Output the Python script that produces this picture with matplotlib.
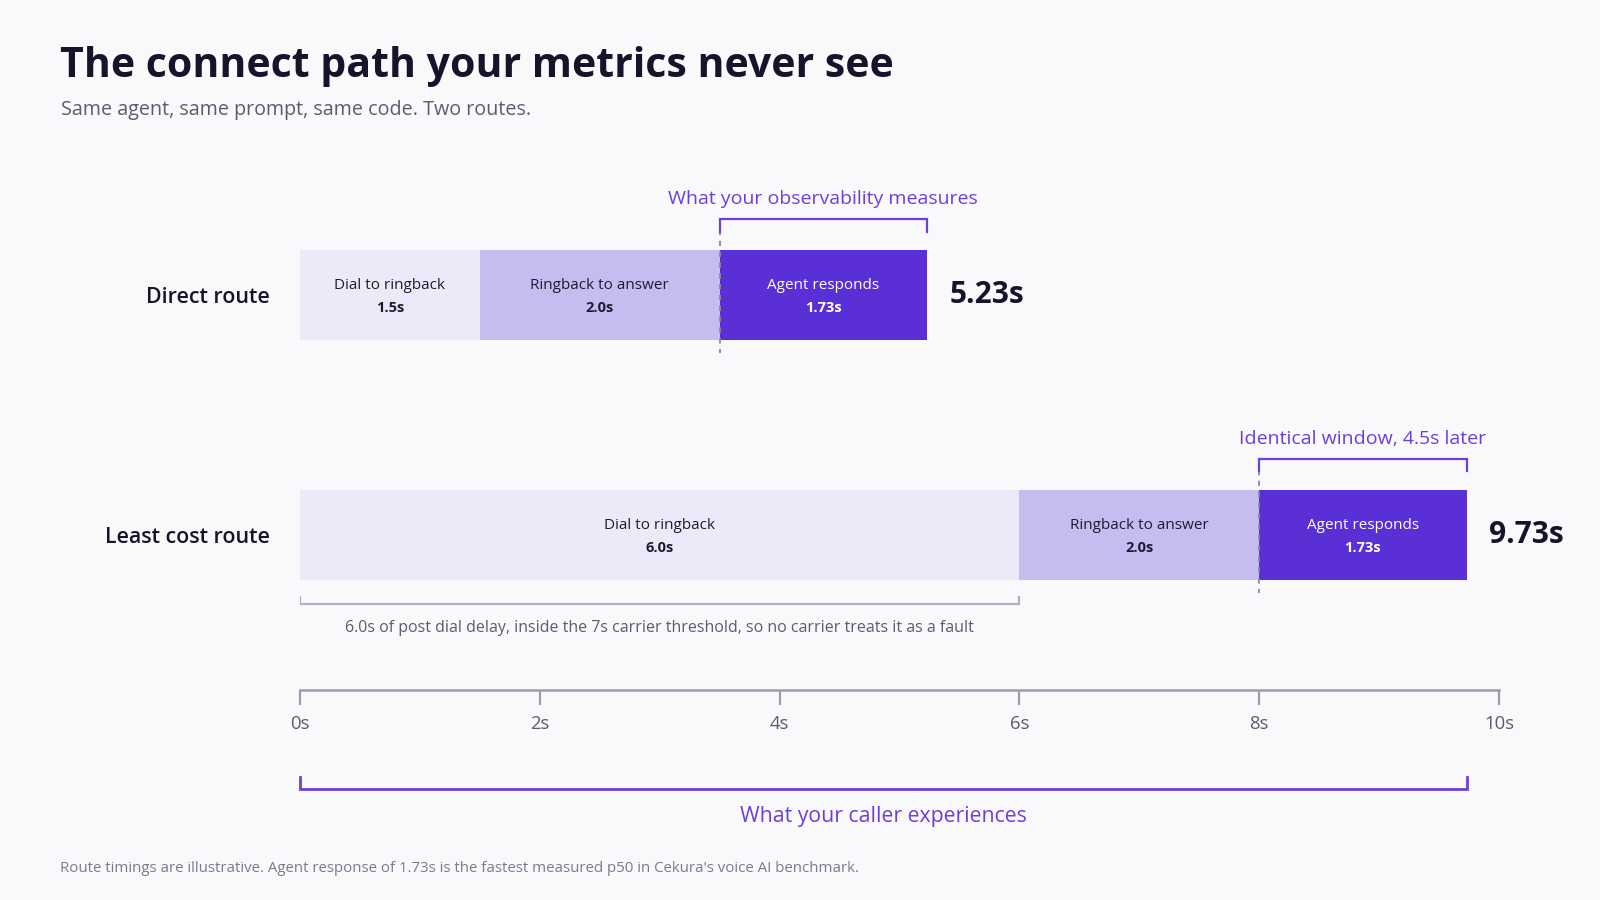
import matplotlib
matplotlib.use("Agg")
import matplotlib.pyplot as plt

# ---------------- data ----------------
routes = ["Direct route", "Least cost route"]
segment_names = ["Dial to ringback", "Ringback to answer", "Agent responds"]
direct_values = [1.5, 2.0, 1.73]
least_cost_values = [6.0, 2.0, 1.73]
totals = ["5.23s", "9.73s"]
tick_values = [0, 2, 4, 6, 8, 10]
tick_labels = ["0s", "2s", "4s", "6s", "8s", "10s"]

title = "The connect path your metrics never see"
subtitle = "Same agent, same prompt, same code. Two routes."
obs_label = "What your observability measures"
window_label = "Identical window, 4.5s later"
pdd_label = "6.0s of post dial delay, inside the 7s carrier threshold, so no carrier treats it as a fault"
caller_label = "What your caller experiences"
footnote = "Route timings are illustrative. Agent response of 1.73s is the fastest measured p50 in Cekura's voice AI benchmark."

# ---------------- style ----------------
BG = "#f9f9fc"
SEG_COLORS = ["#ece9f8", "#c5bdf0", "#5b2fd6"]
SEG_TEXT = ["#1d1b33", "#1d1b33", "#ffffff"]
DARK = "#15142b"
GREY = "#5c5c70"
AXIS = "#9c9cb0"
PURPLE = "#6e3fd8"
FONT = ["Open Sans", "DejaVu Sans"]

plt.rcParams["font.family"] = FONT

W, H = 1568.0, 882.0
fig = plt.figure(figsize=(16, 9), dpi=100, facecolor=BG)

def fx(px):
    return px / W

def fy(py):
    return 1 - py / H

# main axes: x in seconds; y in row units (row 0 at px 289, row 1 at px 524)
ROW0, ROW1 = 289.0, 524.0
UNIT = ROW1 - ROW0
def dy(py):
    return (py - ROW0) / UNIT

def off(r, py):
    # vertical position for row r given the pixel position relative to row 0 layout
    return r + dy(py)

ax_left, ax_right = 294.0, 1469.0
ax_top, ax_bottom = 140.0, 676.0
ax = fig.add_axes([fx(ax_left), fy(ax_bottom), fx(ax_right) - fx(ax_left), fy(ax_top) - fy(ax_bottom)])
ax.set_facecolor("none")
ax.set_xlim(0, 10)
ax.set_ylim(dy(ax_bottom), dy(ax_top))

bar_h = 88.0 / UNIT
all_values = [direct_values, least_cost_values]
for r, vals in enumerate(all_values):
    left = 0.0
    for i, v in enumerate(vals):
        ax.barh(r, v, left=left, height=bar_h, color=SEG_COLORS[i], edgecolor="none", zorder=2)
        cx = left + v / 2
        ax.text(cx, off(r, 280), segment_names[i], ha="center", va="center",
                fontsize=11, color=SEG_TEXT[i], zorder=3)
        ax.text(cx, off(r, 302), f"{v}s", ha="center", va="center",
                fontsize=10.5, fontweight="bold", color=SEG_TEXT[i], zorder=3)
        left += v
    total = sum(vals)
    ax.text(total + 0.19, off(r, 289), totals[r], ha="left", va="center", fontsize=21.5,
            fontweight="bold", color=DARK)
    ax.text(-0.25, off(r, 292), routes[r], ha="right", va="center", fontsize=15.4,
            fontweight="semibold", color=DARK)

# dashed markers at start of agent response
for r, vals in enumerate(all_values):
    xs = vals[0] + vals[1]
    ax.plot([xs, xs], [off(r, 215), off(r, 346)], ls=(0, (3, 3)),
            lw=1.3, color="#8a8a9a", zorder=4)

# purple brackets over agent response
for r, (vals, lab) in enumerate(zip(all_values, [obs_label, window_label])):
    xs = vals[0] + vals[1]
    xe = sum(vals)
    ax.plot([xs, xs, xe, xe], [off(r, 227), off(r, 215), off(r, 215), off(r, 227)],
            color=PURPLE, lw=1.6, solid_joinstyle="miter", zorder=4, clip_on=False)
    ax.text((xs + xe) / 2, off(r, 195), lab, ha="center", va="center",
            fontsize=14, color=PURPLE)

# grey PDD bracket under least cost dial segment
pdd = least_cost_values[0]
ax.plot([0, 0, pdd, pdd], [dy(585), dy(592), dy(592), dy(585)],
        color="#b0b0c0", lw=1.6, zorder=4, solid_joinstyle="miter")
ax.text(pdd / 2, dy(615), pdd_label, ha="center", va="center",
        fontsize=11.5, color=GREY)

# axis styling
for s in ["top", "right", "left"]:
    ax.spines[s].set_visible(False)
ax.spines["bottom"].set_color(AXIS)
ax.spines["bottom"].set_linewidth(1.8)
ax.set_yticks([])
ax.set_xticks(tick_values)
ax.set_xticklabels(tick_labels)
ax.tick_params(axis="x", length=11, width=1.6, color=AXIS, labelsize=13.3,
               labelcolor=GREY, pad=7)

# caller experience bracket (below the axis, in data x)
ax2 = fig.add_axes([fx(ax_left), fy(882), fx(ax_right) - fx(ax_left), fy(676) - fy(882)])
ax2.set_xlim(0, 10)
ax2.set_ylim(882, 676)
ax2.axis("off")
total_lc = sum(least_cost_values)
ax2.plot([0, 0, total_lc, total_lc], [761, 773, 773, 761], color=PURPLE, lw=2,
         solid_joinstyle="miter", clip_on=False)
ax2.text(total_lc / 2, 800, caller_label, ha="center", va="center", fontsize=15.3,
         color=PURPLE)

# titles and footnote
fig.text(fx(59), fy(65), title, ha="left", va="center", fontsize=29.55,
         fontweight="bold", color=DARK)
fig.text(fx(60), fy(108), subtitle, ha="left", va="center", fontsize=14.25, color=GREY)
fig.text(fx(59), fy(851), footnote, ha="left", va="center", fontsize=10.85, color="#7a7a8c")

fig.savefig("out.png", dpi=100, facecolor=BG)
